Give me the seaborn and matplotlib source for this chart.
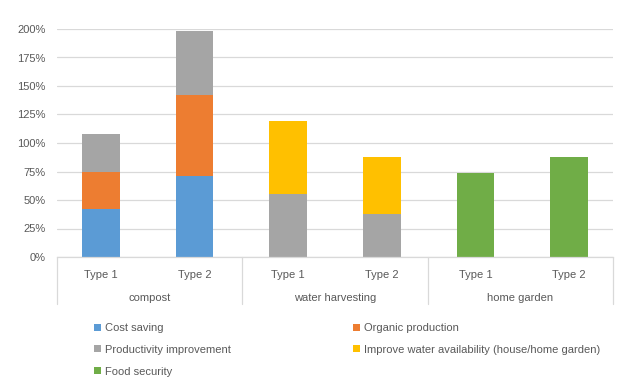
import numpy as np
import pandas as pd
import matplotlib
matplotlib.use("Agg")
import matplotlib.pyplot as plt
import seaborn as sns
from matplotlib.patches import Patch

# data (percent)
groups = ["compost", "water harvesting", "home garden"]
types = ["Type 1", "Type 2"]
series = ["Cost saving", "Organic production", "Productivity improvement",
          "Improve water availability (house/home garden)", "Food security"]
cost_saving = [42, 71, 0, 0, 0, 0]
organic_production = [33, 71, 0, 0, 0, 0]
productivity = [33, 56, 55, 38, 0, 0]
water_availability = [0, 0, 64, 50, 0, 0]
food_security = [0, 0, 0, 0, 74, 88]
colors = ["#5B9BD5", "#ED7D31", "#A5A5A5", "#FFC000", "#70AD47"]

keys = [g + "|" + t for g in groups for t in types]
vals = np.array([cost_saving, organic_production, productivity,
                 water_availability, food_security])
cum = np.cumsum(vals, axis=0)

sns.set_style("white")
plt.rcParams["font.family"] = ["Liberation Sans", "DejaVu Sans"]
txt = "#595959"
fs = 8

fig = plt.figure(figsize=(6.33, 3.84), dpi=100)
ax = fig.add_axes([57 / 633, 1 - 257 / 384, 556 / 633, 228 / 384])

# stacked bars: draw running totals from the top layer down
for i in reversed(range(len(series))):
    df = pd.DataFrame({"key": keys, "value": cum[i]})
    sns.barplot(data=df, x="key", y="value", order=keys, color=colors[i],
                saturation=1, width=0.4, linewidth=0, ax=ax)

ax.set_ylim(0, 200)
ax.set_yticks(range(0, 201, 25))
ax.set_yticklabels([f"{v}%" for v in range(0, 201, 25)], fontsize=fs, color=txt)
ax.set_xticks(range(len(keys)))
ax.set_xticklabels([k.split("|")[1] for k in keys], fontsize=fs, color=txt)
ax.tick_params(axis="both", length=0)
ax.tick_params(axis="x", pad=9)
ax.tick_params(axis="y", pad=8)
ax.set_xlabel("")
ax.set_ylabel("")
ax.set_axisbelow(True)
ax.yaxis.grid(True, color="#d9d9d9", lw=0.9)
for s in ["top", "right", "left"]:
    ax.spines[s].set_visible(False)
ax.spines["bottom"].set_color("#d9d9d9")
ax.spines["bottom"].set_linewidth(0.9)

# group separators and labels under the axis
for j in range(len(groups) + 1):
    ax.plot([j / 3, j / 3], [0, -0.206], transform=ax.transAxes,
            color="#d9d9d9", lw=0.9, clip_on=False)
for j, g in enumerate(groups):
    ax.text((j + 0.5) / 3, -0.178, g, transform=ax.transAxes, ha="center",
            va="center", fontsize=fs, color=txt)

handles = [Patch(facecolor=c, edgecolor="none") for c in colors]
legend_kw = dict(frameon=False, fontsize=fs, labelcolor=txt, handlelength=0.6,
                 handleheight=0.6, handletextpad=0.4, labelspacing=1.06,
                 borderaxespad=0, borderpad=0)
leg1 = fig.legend([handles[0], handles[2], handles[4]],
                  [series[0], series[2], series[4]], loc="upper left",
                  bbox_to_anchor=(94 / 633, 1 - 323 / 384), **legend_kw)
leg2 = fig.legend([handles[1], handles[3]], [series[1], series[3]],
                  loc="upper left", bbox_to_anchor=(353 / 633, 1 - 323 / 384),
                  **legend_kw)

fig.savefig("out.png", dpi=100, facecolor="white")
